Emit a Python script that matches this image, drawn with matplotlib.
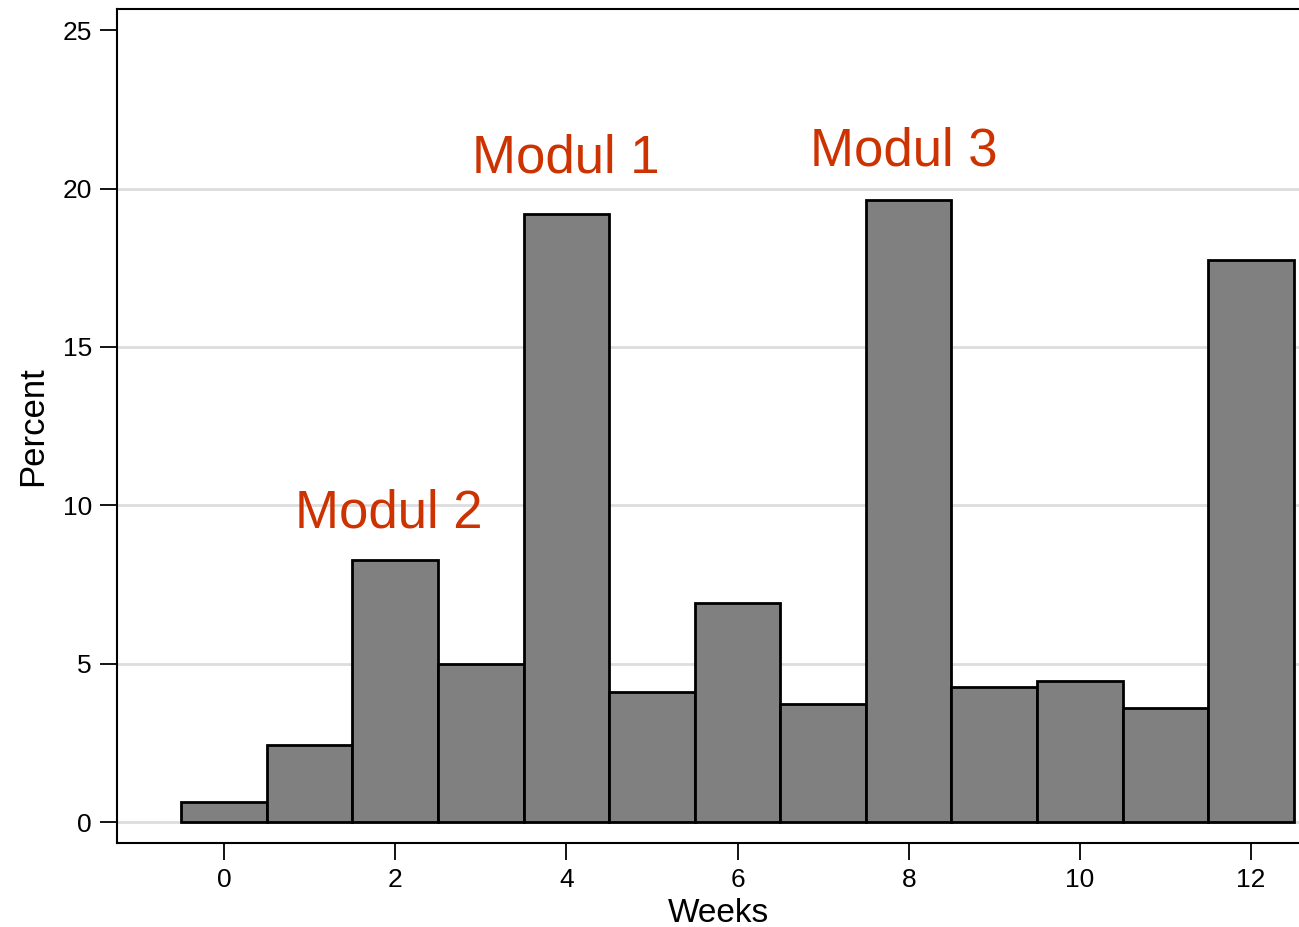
import matplotlib.pyplot as plt

plt.rcParams['font.family'] = ['Liberation Sans', 'DejaVu Sans']

weeks = [0, 1, 2, 3, 4, 5, 6, 7, 8, 9, 10, 11, 12]
percent = [0.63, 2.45, 8.28, 4.98, 19.21, 4.10, 6.92, 3.73, 19.65, 4.27, 4.45, 3.60, 17.76]

labels = ["Modul 2", "Modul 1", "Modul 3"]
label_x = [1.92, 4.0, 7.94]
label_y = [9.75, 20.95, 21.17]

red = '#CC3300'

fig = plt.figure(figsize=(12.99, 9.27), dpi=100)
ax = fig.add_axes([0.090, 0.0906, 0.912, 0.900])

ax.bar(weeks, percent, width=1.0, color='#808080', edgecolor='black', linewidth=2, zorder=3)

for t, x, y in zip(labels, label_x, label_y):
    ax.text(x, y, t, color=red, fontsize=38, ha='center', va='center', zorder=4)

ax.set_xlim(-1.25, 12.59)
ax.set_ylim(-0.66, 25.68)
ax.set_xticks([0, 2, 4, 6, 8, 10, 12])
ax.set_yticks([0, 5, 10, 15, 20, 25])

# grid lines, none at the top tick
for g in [0, 5, 10, 15, 20]:
    ax.axhline(g, color='#DDDDDD', linewidth=2, zorder=0)

ax.tick_params(labelsize=19, length=12, width=1.3, direction='out', pad=6)
ax.set_xlabel('Weeks', fontsize=24, labelpad=0)
ax.xaxis.set_label_coords(0.508, -0.066)
ax.set_ylabel('Percent', fontsize=25, labelpad=10)

ax.spines['right'].set_visible(False)
for s in ['left', 'top', 'bottom']:
    ax.spines[s].set_linewidth(1.5)

fig.savefig('out.png', dpi=100)
